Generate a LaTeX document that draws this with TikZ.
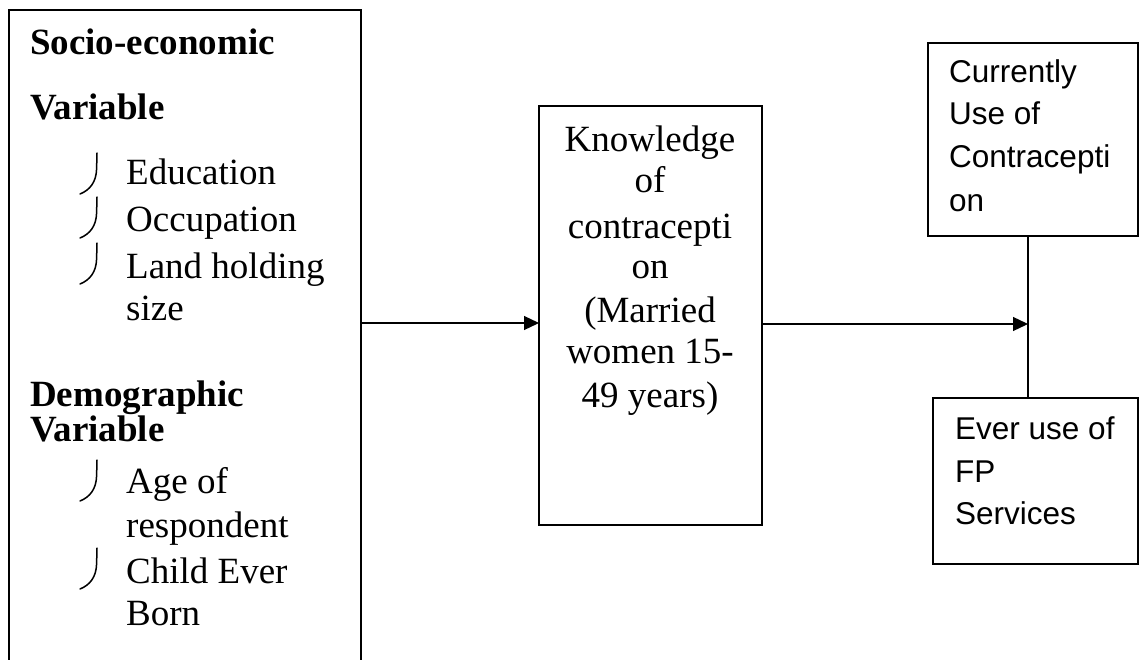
\documentclass[tikz,border=0pt]{standalone}
\usepackage{fontspec}
\setmainfont{Liberation Serif}
\newfontfamily\arialf{Liberation Sans}
\usetikzlibrary{arrows.meta}
\tikzset{
  boxnode/.style={draw, line width=1.2pt, rectangle, inner sep=0pt, outer sep=0pt},
  sertext/.style={anchor=base west, inner sep=0pt, font=\fontsize{37}{43}\selectfont},
  serbold/.style={sertext, font=\fontsize{37}{43}\selectfont\bfseries},
  midtext/.style={anchor=base, inner sep=0pt, font=\fontsize{37}{43}\selectfont},
  sanstext/.style={anchor=base west, inner sep=0pt, font=\arialf\fontsize{31.5}{43}\selectfont},
  bulletmark/.style={line width=1.5pt, line cap=round},
  arr/.style={line width=1.2pt, -{Triangle[length=15pt,width=14pt]}},
  conn/.style={line width=1.2pt}
}
\begin{document}
\begin{tikzpicture}[x=1pt,y=-1pt]
\useasboundingbox (0,0) rectangle (1139,660);
\clip (0,0) rectangle (1139,660);
\fill[white] (0,0) rectangle (1139,660);

% boxes
\node[boxnode, minimum width=352pt, minimum height=680pt] (se) at (185,350) {};
\node[boxnode, minimum width=223pt, minimum height=419pt] (mid) at (650.5,315.5) {};
\node[boxnode, minimum width=210pt, minimum height=193pt] (cur) at (1033,139.5) {};
\node[boxnode, minimum width=205pt, minimum height=166pt] (ever) at (1035.5,481) {};

% left box text
\node[serbold] (t1) at (30,55) {Socio-economic};
\node[serbold] (t2) at (30,120) {Variable};
\node[sertext] (t3) at (126,185) {Education};
\node[sertext] (t4) at (126,232) {Occupation};
\node[sertext] (t5) at (126,278) {Land holding};
\node[sertext] (t6) at (126,320) {size};
\node[serbold] (t7) at (30,406) {Demographic};
\node[serbold] (t8) at (30,441) {Variable};
\node[sertext] (t9) at (126,493) {Age of};
\node[sertext] (t10) at (126,537) {respondent};
\node[sertext] (t11) at (126,583) {Child Ever};
\node[sertext] (t12) at (126,625) {Born};

% bullet marks
\foreach \yy in {153,197,243,460,548}{
  \draw[bulletmark] (97,\yy) -- (96.6,\yy+16) .. controls (96.2,\yy+29) and (90,\yy+37) .. (80,\yy+41);
}

% middle text
\node[midtext] (m1) at (650,152) {Knowledge};
\node[midtext] (m2) at (650,193) {of};
\node[midtext] (m3) at (650,238) {contracepti};
\node[midtext] (m4) at (650,278) {on};
\node[midtext] (m5) at (650,322) {(Married};
\node[midtext] (m6) at (650,363) {women 15-};
\node[midtext] (m7) at (650,407) {49 years)};

% right texts
\node[sanstext] (c1) at (949,83) {Currently};
\node[sanstext] (c2) at (949,125) {Use of};
\node[sanstext] (c3) at (949,168) {Contracepti};
\node[sanstext] (c4) at (949,212) {on};
\node[sanstext] (e1) at (955,439) {Ever use of};
\node[sanstext] (e2) at (955,482) {FP};
\node[sanstext] (e3) at (955,524) {Services};

% connectors
\coordinate (ay) at (0,323);
\coordinate (j) at (1028,324);
\draw[arr] (se.east |- ay) -- (mid.west |- ay);
\draw[arr] (mid.east |- j) -- (j);
\draw[conn] (j |- cur.south) -- (j |- ever.north);
\end{tikzpicture}
\end{document}
